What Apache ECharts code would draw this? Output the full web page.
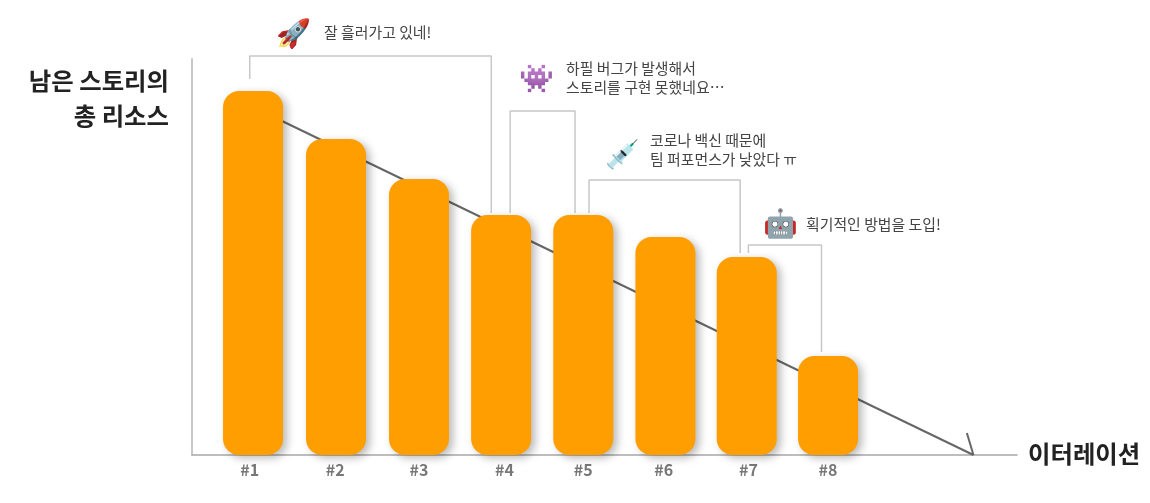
<!DOCTYPE html>
<html><head><meta charset="utf-8">
<style>html,body{margin:0;background:#fff}#c{width:1150px;height:503px}</style>
<script src="https://cdn.jsdelivr.net/npm/echarts@6/dist/echarts.min.js"></script></head>
<body><div id="c"></div><script>
const iterations = ['#1','#2','#3','#4','#5','#6','#7','#8'];
const barCenters = [1,2.01,3.02,4.02,5.02,6.02,7.01,8];
const remaining = [364,316,276,240,240,218,198,99];
const labelCenters = [0.96,2,3.02,4.06,5.02,6,7.03,8];
const idealLine = [[1,348],[9.77,0]];
const arrowBarb = [[9.69,22],[9.77,0]];
const bracket1 = [[0.96,376],[0.96,399],[3.9,399],[3.9,242]];
const bracket2 = [[4.13,242],[4.13,344],[4.92,344],[4.92,242]];
const bracket3 = [[5.09,242],[5.09,275],[6.93,275],[6.93,202]];
const bracket4 = [[7.03,202],[7.03,210],[7.92,210],[7.92,103]];
const yTitle = '남은 스토리의\n총 리소스';
const xTitle = '이터레이션';
const notes = ['잘 흘러가고 있네!','하필 버그가 발생해서\n스토리를 구현 못했네요…','코로나 백신 때문에\n팀 퍼포먼스가 낮았다 ㅠ','획기적인 방법을 도입!'];
const emoji = ['🚀','👾','💉','🤖'];
const font = '"Noto Sans CJK KR","Noto Sans",sans-serif';
const chart = echarts.init(document.getElementById('c'),null,{renderer:'canvas'});
const br = d=>({type:'line',data:d,symbol:'none',clip:false,z:1,silent:true,lineStyle:{color:'#c8c8c8',width:1.5}});
const gl = d=>({type:'line',data:d,symbol:'none',clip:false,z:2,lineStyle:{color:'#666',width:2}});
chart.setOption({
 animation:false,
 grid:{left:192,width:825,top:59,bottom:48},
 xAxis:{type:'value',min:0.257,max:10.3,splitLine:{show:false},
  axisLine:{show:true,onZero:false,lineStyle:{color:'#a8a8a8',width:1.5}},axisTick:{show:false},
  axisLabel:{customValues:labelCenters,formatter:(v)=>iterations[labelCenters.indexOf(v)]||'',
   color:'#777',fontFamily:font,fontWeight:'bold',fontSize:16,margin:7}},
 yAxis:{type:'value',min:0,max:396,splitLine:{show:false},axisLabel:{show:false},axisTick:{show:false},
  axisLine:{show:true,lineStyle:{color:'#c8c8c8',width:2}}},
 series:[br(bracket1),br(bracket2),br(bracket3),br(bracket4),gl(idealLine),gl(arrowBarb),
  {type:'bar',z:3,barWidth:60,data:barCenters.map((x,i)=>[x,remaining[i]]),
   itemStyle:{color:'#ff9e00',borderRadius:16,shadowBlur:9,shadowColor:'rgba(0,0,0,.28)',shadowOffsetX:4,shadowOffsetY:3}}],
 graphic:[
  {type:'text',x:169,y:98,style:{text:yTitle,align:'right',verticalAlign:'middle',font:'bold 24.4px '+font,lineHeight:35,fill:'#222'}},
  {type:'text',x:1028,y:454,style:{text:xTitle,align:'left',verticalAlign:'middle',font:'bold 24.4px '+font,fill:'#222'}},
  {type:'text',x:324,y:32,style:{text:notes[0],verticalAlign:'middle',font:'14.9px '+font,fill:'#444'}},
  {type:'text',x:566,y:77.5,style:{text:notes[1],verticalAlign:'middle',font:'14.9px '+font,lineHeight:19,fill:'#444'}},
  {type:'text',x:650,y:149.5,style:{text:notes[2],verticalAlign:'middle',font:'14.9px '+font,lineHeight:19,fill:'#444'}},
  {type:'text',x:806,y:224,style:{text:notes[3],verticalAlign:'middle',font:'14.9px '+font,fill:'#444'}},
  {type:'text',x:293.5,y:32,style:{text:emoji[0],align:'center',verticalAlign:'middle',font:'28px '+font}},
  {type:'text',x:536,y:77,style:{text:emoji[1],align:'center',verticalAlign:'middle',font:'28px '+font}},
  {type:'text',x:622,y:153,style:{text:emoji[2],align:'center',verticalAlign:'middle',font:'28px '+font}},
  {type:'text',x:780,y:222,style:{text:emoji[3],align:'center',verticalAlign:'middle',font:'28px '+font}}
 ]
});
</script></body></html>
